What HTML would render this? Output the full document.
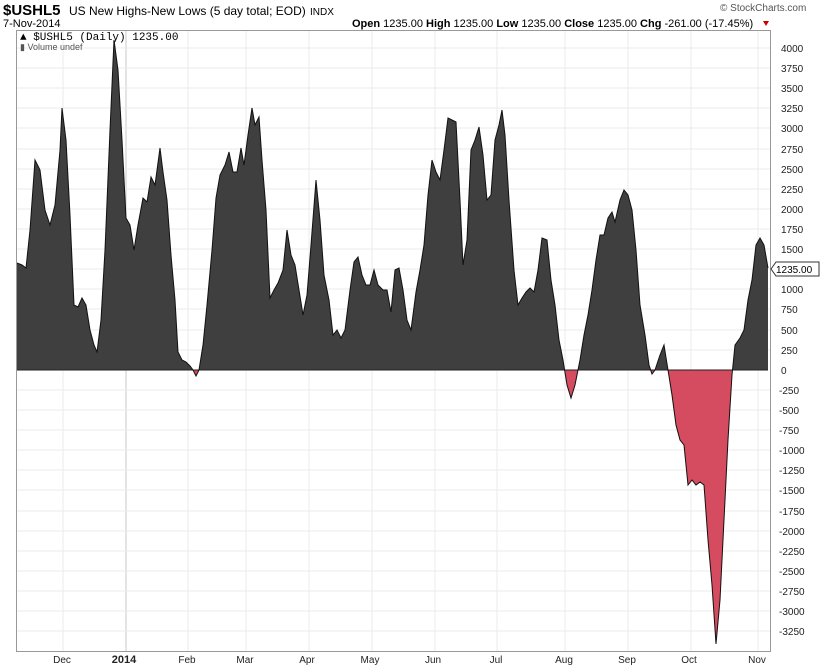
<!DOCTYPE html>
<html><head><meta charset="utf-8"><style>
body{margin:0;background:#fff;}
svg{display:block;font-family:"Liberation Sans",sans-serif;}
</style></head><body>
<svg width="820" height="668" xmlns="http://www.w3.org/2000/svg">
<rect width="820" height="668" fill="#fff"/>
<text x="3" y="15" font-size="15" font-weight="bold">$USHL5</text>
<text x="69" y="15" font-size="12">US New Highs-New Lows (5 day total; EOD)</text>
<text x="310" y="15" font-size="10">INDX</text>
<text x="3" y="27" font-size="11">7-Nov-2014</text>
<text x="720" y="11" font-size="10" fill="#555">© StockCharts.com</text>
<text x="352" y="27" font-size="11"><tspan font-weight="bold">Open</tspan> 1235.00  <tspan font-weight="bold">High</tspan> 1235.00  <tspan font-weight="bold">Low</tspan> 1235.00  <tspan font-weight="bold">Close</tspan> 1235.00  <tspan font-weight="bold">Chg</tspan> -261.00 (-17.45%)</text>
<polygon points="763,21 769,21 766,26" fill="#c00"/>
<g stroke="#ebebeb" stroke-width="1">
<line x1="63" y1="30" x2="63" y2="651"/><line x1="188" y1="30" x2="188" y2="651"/><line x1="246" y1="30" x2="246" y2="651"/><line x1="309" y1="30" x2="309" y2="651"/><line x1="372" y1="30" x2="372" y2="651"/><line x1="435" y1="30" x2="435" y2="651"/><line x1="497" y1="30" x2="497" y2="651"/><line x1="565" y1="30" x2="565" y2="651"/><line x1="628" y1="30" x2="628" y2="651"/><line x1="691" y1="30" x2="691" y2="651"/><line x1="758" y1="30" x2="758" y2="651"/>
</g>
<line x1="126" y1="30" x2="126" y2="651" stroke="#c8c8c8"/>
<g stroke="#ebebeb">
<line x1="17" x2="770" y1="48" y2="48"/><line x1="17" x2="770" y1="68" y2="68"/><line x1="17" x2="770" y1="88" y2="88"/><line x1="17" x2="770" y1="108" y2="108"/><line x1="17" x2="770" y1="128" y2="128"/><line x1="17" x2="770" y1="149" y2="149"/><line x1="17" x2="770" y1="169" y2="169"/><line x1="17" x2="770" y1="189" y2="189"/><line x1="17" x2="770" y1="209" y2="209"/><line x1="17" x2="770" y1="229" y2="229"/><line x1="17" x2="770" y1="249" y2="249"/><line x1="17" x2="770" y1="269" y2="269"/><line x1="17" x2="770" y1="289" y2="289"/><line x1="17" x2="770" y1="309" y2="309"/><line x1="17" x2="770" y1="330" y2="330"/><line x1="17" x2="770" y1="350" y2="350"/><line x1="17" x2="770" y1="390" y2="390"/><line x1="17" x2="770" y1="410" y2="410"/><line x1="17" x2="770" y1="430" y2="430"/><line x1="17" x2="770" y1="450" y2="450"/><line x1="17" x2="770" y1="470" y2="470"/><line x1="17" x2="770" y1="490" y2="490"/><line x1="17" x2="770" y1="511" y2="511"/><line x1="17" x2="770" y1="531" y2="531"/><line x1="17" x2="770" y1="551" y2="551"/><line x1="17" x2="770" y1="571" y2="571"/><line x1="17" x2="770" y1="591" y2="591"/><line x1="17" x2="770" y1="611" y2="611"/><line x1="17" x2="770" y1="631" y2="631"/>
</g>
<defs>
<clipPath id="up"><rect x="0" y="0" width="820" height="370"/></clipPath>
<clipPath id="dn"><rect x="0" y="370" width="820" height="300"/></clipPath>
<polygon id="p" points="17,370 17,263 22,265 26,268 30,230 35,160 40,170 45,210 50,225 55,205 60,150 62,108 66,140 70,215 74,305 78,307 82,298 86,305 90,330 94,345 97,352 101,320 105,250 110,130 114,40 118,70 122,140 126,218 130,225 134,250 138,225 143,198 147,202 151,177 155,185 160,148 163,172 167,200 171,255 175,300 178,352 182,360 186,362 190,366 193,370 196,376 199,370 203,345 207,305 212,250 216,198 220,175 225,165 229,152 233,172 237,172 241,148 244,165 248,135 252,108 255,125 259,117 262,160 266,210 270,298 274,290 278,283 283,270 287,230 291,255 295,265 299,290 303,315 307,295 311,245 316,180 320,220 324,275 329,300 333,335 337,330 341,338 345,330 350,290 354,262 358,257 362,275 366,285 370,285 374,270 378,285 383,290 387,290 391,312 395,270 399,268 403,290 407,320 411,330 416,292 420,270 424,245 428,195 432,160 436,172 440,180 444,150 448,118 452,120 456,122 460,200 463,265 467,240 471,150 475,140 479,127 483,155 487,200 491,195 495,140 499,125 502,110 505,135 509,200 514,270 518,305 522,298 526,292 530,288 534,292 538,270 542,238 547,240 551,280 555,305 559,340 563,360 567,385 571,398 575,385 580,360 584,335 588,315 592,290 596,260 600,235 604,235 608,218 612,212 615,222 620,200 624,190 628,195 632,210 636,250 640,305 645,335 649,365 652,374 655,370 660,355 664,345 668,370 672,395 676,425 680,440 684,445 688,485 692,480 696,485 700,482 704,485 708,540 712,585 716,644 720,600 724,520 728,440 732,375 735,345 740,338 744,330 748,300 752,280 756,245 760,238 764,245 768,268 768,370"/>
</defs>
<use href="#p" clip-path="url(#up)" fill="#3f3f3f"/>
<use href="#p" clip-path="url(#dn)" fill="#d54b5f"/>
<line x1="17" y1="370" x2="768" y2="370" stroke="#222"/>
<polyline fill="none" stroke="#111" stroke-width="1" points="17,263 22,265 26,268 30,230 35,160 40,170 45,210 50,225 55,205 60,150 62,108 66,140 70,215 74,305 78,307 82,298 86,305 90,330 94,345 97,352 101,320 105,250 110,130 114,40 118,70 122,140 126,218 130,225 134,250 138,225 143,198 147,202 151,177 155,185 160,148 163,172 167,200 171,255 175,300 178,352 182,360 186,362 190,366 193,370 196,376 199,370 203,345 207,305 212,250 216,198 220,175 225,165 229,152 233,172 237,172 241,148 244,165 248,135 252,108 255,125 259,117 262,160 266,210 270,298 274,290 278,283 283,270 287,230 291,255 295,265 299,290 303,315 307,295 311,245 316,180 320,220 324,275 329,300 333,335 337,330 341,338 345,330 350,290 354,262 358,257 362,275 366,285 370,285 374,270 378,285 383,290 387,290 391,312 395,270 399,268 403,290 407,320 411,330 416,292 420,270 424,245 428,195 432,160 436,172 440,180 444,150 448,118 452,120 456,122 460,200 463,265 467,240 471,150 475,140 479,127 483,155 487,200 491,195 495,140 499,125 502,110 505,135 509,200 514,270 518,305 522,298 526,292 530,288 534,292 538,270 542,238 547,240 551,280 555,305 559,340 563,360 567,385 571,398 575,385 580,360 584,335 588,315 592,290 596,260 600,235 604,235 608,218 612,212 615,222 620,200 624,190 628,195 632,210 636,250 640,305 645,335 649,365 652,374 655,370 660,355 664,345 668,370 672,395 676,425 680,440 684,445 688,485 692,480 696,485 700,482 704,485 708,540 712,585 716,644 720,600 724,520 728,440 732,375 735,345 740,338 744,330 748,300 752,280 756,245 760,238 764,245 768,268"/>
<rect x="16.5" y="30.5" width="754" height="621" fill="none" stroke="#999"/>
<text x="20" y="40" font-size="11" font-family="Liberation Mono,monospace">▲ $USHL5 (Daily) 1235.00</text>
<text x="20" y="50" font-size="9" fill="#555">▮ Volume undef</text>
<g font-size="10" fill="#222">
<text x="781" y="52">4000</text><text x="781" y="72">3750</text><text x="781" y="92">3500</text><text x="781" y="112">3250</text><text x="781" y="132">3000</text><text x="781" y="153">2750</text><text x="781" y="173">2500</text><text x="781" y="193">2250</text><text x="781" y="213">2000</text><text x="781" y="233">1750</text><text x="781" y="253">1500</text><text x="781" y="293">1000</text><text x="781" y="313">750</text><text x="781" y="334">500</text><text x="781" y="354">250</text><text x="781" y="374">0</text><text x="779" y="394">-250</text><text x="779" y="414">-500</text><text x="779" y="434">-750</text><text x="779" y="454">-1000</text><text x="779" y="474">-1250</text><text x="779" y="494">-1500</text><text x="779" y="515">-1750</text><text x="779" y="535">-2000</text><text x="779" y="555">-2250</text><text x="779" y="575">-2500</text><text x="779" y="595">-2750</text><text x="779" y="615">-3000</text><text x="779" y="635">-3250</text>
</g>
<path d="M771,269 L776,262 L819,262 L819,276 L776,276 Z" fill="#fff" stroke="#333"/>
<text x="776" y="273" font-size="10" fill="#000">1235.00</text>
<g font-size="10" fill="#222" text-anchor="middle">
<text x="62" y="663">Dec</text><text x="124" y="663" font-weight="bold" font-size="11">2014</text><text x="187" y="663">Feb</text><text x="245" y="663">Mar</text><text x="307" y="663">Apr</text><text x="370" y="663">May</text><text x="433" y="663">Jun</text><text x="496" y="663">Jul</text><text x="564" y="663">Aug</text><text x="627" y="663">Sep</text><text x="689" y="663">Oct</text><text x="757" y="663">Nov</text>
</g>
</svg>
</body></html>
